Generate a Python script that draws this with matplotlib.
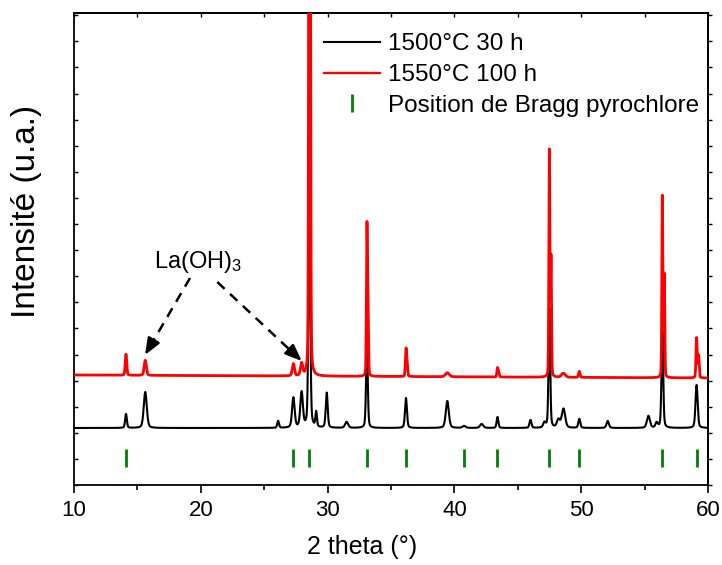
import numpy as np
import matplotlib
matplotlib.use("Agg")
import matplotlib.pyplot as plt
from matplotlib.ticker import MultipleLocator
from matplotlib.lines import Line2D

plt.rcParams['font.family'] = ['Liberation Sans', 'DejaVu Sans']
plt.rcParams['mathtext.fontset'] = 'custom'
plt.rcParams['mathtext.rm'] = 'Liberation Sans'
plt.rcParams['mathtext.it'] = 'Liberation Sans'

# ---- data (intensity in arbitrary units) ----
two_theta_min, two_theta_max = 10, 60

# 1500°C 30 h : peak positions (°), heights, widths (FWHM °)
black_pos = [14.1, 15.62, 26.1, 27.3, 27.95, 28.56, 29.1, 29.93, 31.5, 33.1,
             36.18, 39.44, 40.76, 42.15, 43.4, 46.0, 47.1, 47.49, 48.2, 48.6,
             49.85, 52.09, 55.3, 55.95, 56.4, 59.1]
black_h = [14, 36, 7, 30, 35, 260, 15, 35, 6, 80,
           30, 27, 2, 4, 11, 8, 5, 120, 8, 19,
           9, 7, 12, 5, 95, 43]
black_w = [0.16, 0.28, 0.16, 0.24, 0.24, 0.16, 0.14, 0.18, 0.28, 0.16,
           0.18, 0.28, 0.3, 0.3, 0.16, 0.18, 0.22, 0.15, 0.28, 0.32,
           0.18, 0.22, 0.28, 0.22, 0.16, 0.2]
black_base = 57

# 1550°C 100 h
red_pos = [14.1, 15.62, 27.3, 27.95, 28.56, 28.62, 33.1, 33.185, 36.18, 36.27,
           39.44, 43.4, 43.5, 47.49, 47.62, 48.6, 49.85, 56.4, 56.55, 59.1, 59.26]
red_h = [21, 15, 12, 12, 900, 450, 146, 74, 26, 13,
         4, 9, 4, 226, 118, 4, 6, 181, 102, 40, 22]
red_w = [0.14, 0.2, 0.2, 0.2, 0.1, 0.1, 0.09, 0.09, 0.11, 0.11,
         0.35, 0.11, 0.11, 0.09, 0.09, 0.35, 0.14, 0.09, 0.09, 0.11, 0.11]
red_base_left, red_base_right = 110, 107

# Bragg positions pyrochlore
bragg_pos = [14.1, 27.3, 28.56, 33.1, 36.18, 40.76, 43.38, 47.49, 49.85, 56.34, 59.1]
bragg_low, bragg_high = 18, 36

x = np.arange(two_theta_min, two_theta_max + 0.004, 0.008)

def profile(x, pos, h, w, eta):
    y = np.zeros_like(x)
    for p, hh, ww in zip(pos, h, w):
        g = ww / 2
        lor = g**2 / ((x - p)**2 + g**2)
        gau = np.exp(-np.log(2) * ((x - p) / g)**2)
        y += hh * (eta * lor + (1 - eta) * gau)
    return y

y_black = black_base + profile(x, black_pos, black_h, black_w, 0.35)
red_base = red_base_left + (red_base_right - red_base_left) * (x - two_theta_min) / (two_theta_max - two_theta_min)
y_red = red_base + profile(x, red_pos, red_h, red_w, 0.2)

fig = plt.figure(figsize=(7.22, 5.65), dpi=100)
ax = fig.add_axes([74/722, 80/565, 634/722, 472/565])

ax.plot(x, y_black, color='black', lw=1.5, zorder=3, label='1500°C 30 h')
ax.plot(x, y_red, color='red', lw=2.0, zorder=4, label='1550°C 100 h')
ax.vlines(bragg_pos, bragg_low, bragg_high, color='#008000', lw=2.0, zorder=3)

ax.set_xlim(two_theta_min, two_theta_max)
ax.set_ylim(0, 472)

ax.xaxis.set_major_locator(MultipleLocator(10))
ax.xaxis.set_minor_locator(MultipleLocator(5))
ax.yaxis.set_major_locator(MultipleLocator(26.1))
ax.tick_params(axis='x', which='major', direction='out', length=6, width=1.2,
               labelsize=16, pad=5)
ax.tick_params(axis='x', which='minor', direction='out', length=3.5, width=1.2)
ax.tick_params(axis='y', which='major', direction='in', length=3, width=1.0,
               labelleft=False)

secx = ax.secondary_xaxis('top')
secx.xaxis.set_major_locator(MultipleLocator(5))
secx.tick_params(direction='in', length=3, width=1.0, labeltop=False)
secy = ax.secondary_yaxis('right')
secy.yaxis.set_major_locator(MultipleLocator(26.1))
secy.tick_params(direction='out', length=3, width=1.0, labelright=False)
for sp in list(ax.spines.values()) + [secx.spines['top'], secy.spines['right']]:
    sp.set_linewidth(1.3)

fig.text(27/722, 1 - 211/565, 'Intensité (u.a.)', rotation=90, ha='center',
         va='center', fontsize=24)
fig.text(362/722, 1 - 547/565, '2 theta (°)', ha='center', va='center', fontsize=18)

# annotation
ax.text(19.8, 223, 'La(OH)$_3$', ha='center', va='center', fontsize=17)
arrows = [((19.15, 207), (15.6, 130)), ((21.3, 203), (27.96, 124))]
for (x0, y0), (x1, y1) in arrows:
    frac = 0.8
    xm, ym = x0 + (x1 - x0) * frac, y0 + (y1 - y0) * frac
    ax.plot([x0, xm], [y0, ym], color='black', lw=1.8, ls=(0, (4, 3)), zorder=5)
    ax.annotate('', xy=(x1, y1), xytext=(xm, ym),
                arrowprops=dict(arrowstyle='-|>,head_length=1.0,head_width=0.4',
                                color='black', lw=1.8, shrinkA=0, shrinkB=0),
                zorder=5)

handles = [Line2D([], [], color='black', lw=1.5),
           Line2D([], [], color='red', lw=1.7),
           Line2D([], [], color='#008000', lw=0, marker='|', markersize=13,
                  markeredgewidth=2.0)]
labels = ['1500°C 30 h', '1550°C 100 h', 'Position de Bragg pyrochlore']
ax.legend(handles, labels, loc='upper left', bbox_to_anchor=(0.395, 0.957),
          frameon=False, fontsize=17.5, handlelength=2.3, handletextpad=0.3,
          labelspacing=0.36, borderpad=0, borderaxespad=0)

fig.savefig('out.png', dpi=100)
